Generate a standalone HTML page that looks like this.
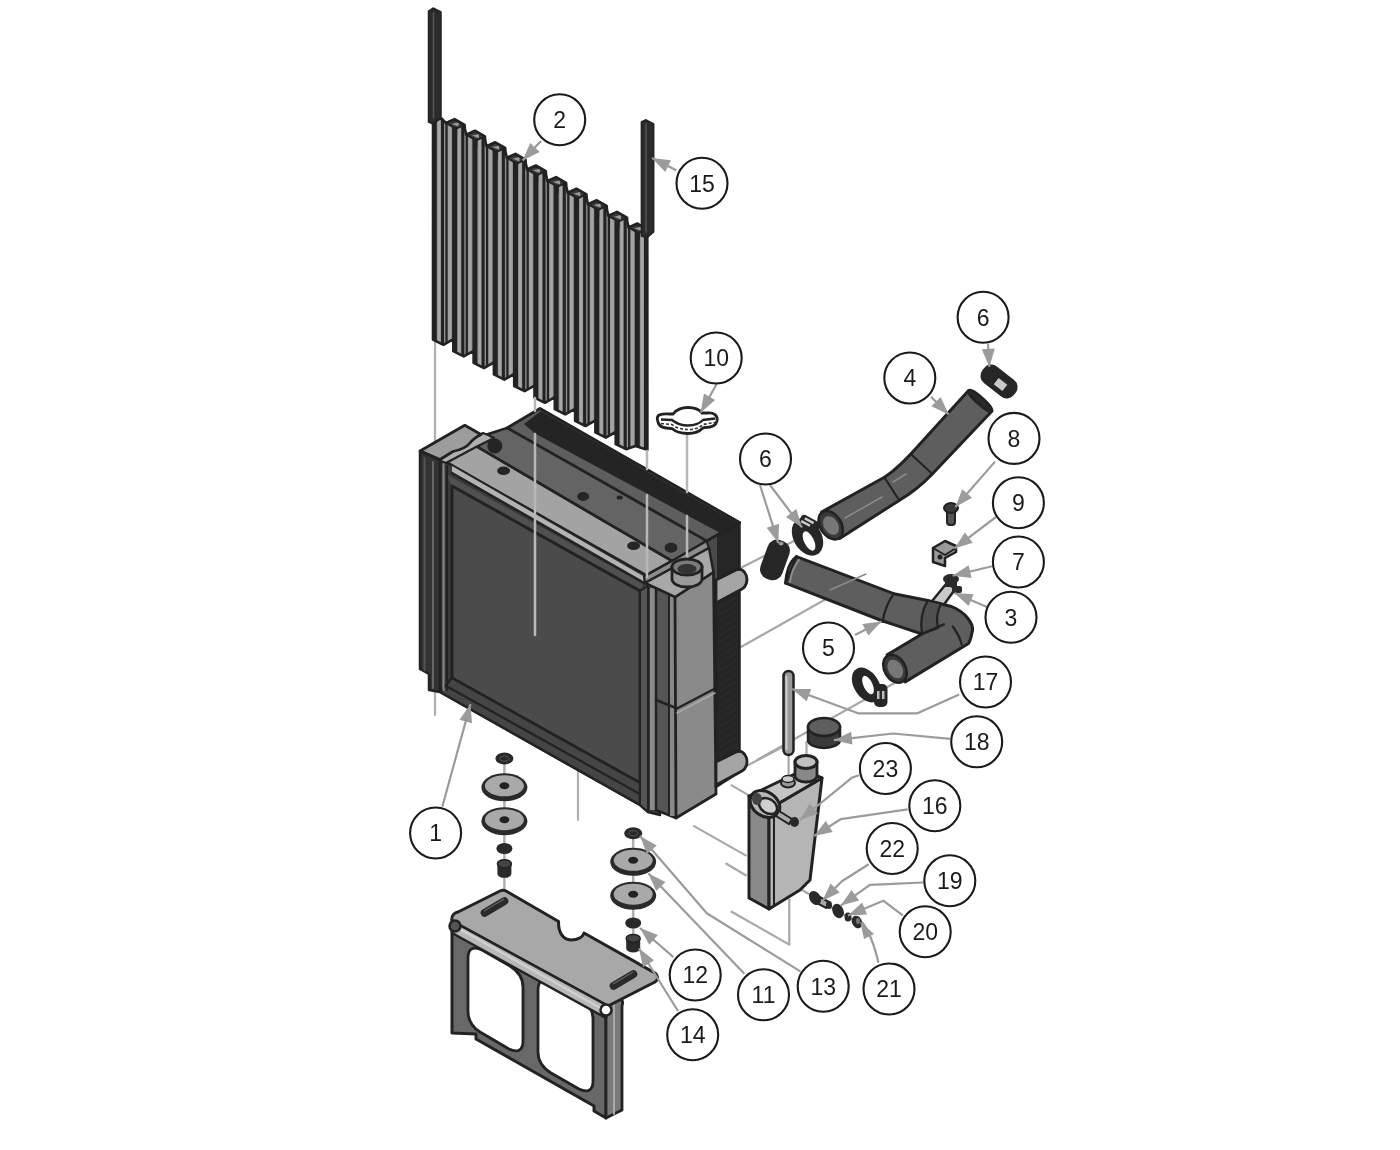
<!DOCTYPE html>
<html><head><meta charset="utf-8"><style>
html,body{margin:0;padding:0;background:#fff;width:1400px;height:1150px;overflow:hidden}
svg{display:block;will-change:transform}
text{font-family:"Liberation Sans",sans-serif;font-size:23px;fill:#1a1a1a}
</style></head><body>
<svg width="1400" height="1150" viewBox="0 0 1400 1150">
<defs>
<marker id="ar" viewBox="0 0 10 10" refX="10" refY="5" markerWidth="7" markerHeight="6" orient="auto" markerUnits="userSpaceOnUse"><path d="M0,0 L10,5 L0,10 z" fill="#999"/></marker>
</defs>
<line x1="435.0" y1="340.0" x2="435.0" y2="715.0" stroke="#b0b0b0" stroke-width="2.2" stroke-linecap="round" />
<line x1="578.0" y1="770.0" x2="578.0" y2="820.0" stroke="#b0b0b0" stroke-width="2.2" stroke-linecap="round" />
<path d="M740.5,568.0 L800.0,538.0" fill="none" stroke="#a8a8a8" stroke-width="2.2" stroke-linejoin="round"/>
<path d="M740.5,647.3 L846.0,587.8" fill="none" stroke="#a8a8a8" stroke-width="2.2" stroke-linejoin="round"/>
<path d="M757.0,760.0 L895.0,682.8" fill="none" stroke="#a8a8a8" stroke-width="2.2" stroke-linejoin="round"/>
<path d="M744.4,767.1 L784.0,746.3" fill="none" stroke="#a8a8a8" stroke-width="2.2" stroke-linejoin="round"/>
<path d="M730.8,784.9 L750.6,796.4" fill="none" stroke="#a8a8a8" stroke-width="2.2" stroke-linejoin="round"/>
<path d="M693.2,825.6 L746.5,855.9" fill="none" stroke="#a8a8a8" stroke-width="2.2" stroke-linejoin="round"/>
<path d="M725.6,863.2 L746.5,875.7" fill="none" stroke="#a8a8a8" stroke-width="2.2" stroke-linejoin="round"/>
<path d="M730.8,911.2 L789.3,944.6 L789.3,898.7" fill="none" stroke="#a8a8a8" stroke-width="2.2" stroke-linejoin="round"/>
<path d="M800.8,889.3 L858.0,923.0" fill="none" stroke="#a8a8a8" stroke-width="2.2" stroke-linejoin="round"/>
<path d="M806.5,741.0 L806.5,757.0" fill="none" stroke="#a8a8a8" stroke-width="2.2" stroke-linejoin="round"/>
<path d="M788.6,755.0 L788.6,778.0" fill="none" stroke="#a8a8a8" stroke-width="2.2" stroke-linejoin="round"/>
<defs><clipPath id="gclip"><path d="M433.0,122.0 L441.0,118.0 L445.9,123.0 L454.6,119.1 L464.6,124.8 L464.9,128.7 L466.2,134.6 L474.9,130.7 L484.9,136.4 L485.2,140.3 L486.5,146.2 L495.2,142.3 L505.2,148.0 L505.5,151.9 L506.8,157.8 L515.5,153.9 L525.5,159.6 L525.8,163.5 L527.1,169.4 L535.8,165.5 L545.8,171.2 L546.1,175.1 L547.4,181.0 L556.1,177.1 L566.1,182.8 L566.4,186.7 L567.7,192.6 L576.4,188.7 L586.4,194.4 L586.7,198.3 L588.0,204.2 L596.7,200.3 L606.7,206.0 L607.0,209.9 L608.3,215.8 L617.0,211.9 L627.0,217.6 L627.3,221.5 L628.6,227.4 L637.3,223.5 L647.3,229.2 L647.4,449.8 L635.4,446.0 L626.1,449.2 L615.7,444.0 L615.7,432.0 L605.8,437.6 L595.4,432.4 L595.4,420.4 L585.5,426.0 L575.1,420.8 L575.1,408.8 L565.2,414.4 L554.8,409.2 L554.8,397.2 L544.9,402.8 L534.5,397.6 L534.5,385.6 L524.6,391.2 L514.2,386.0 L514.2,374.0 L504.3,379.6 L493.9,374.4 L493.9,362.4 L484.0,368.0 L473.6,362.8 L473.6,350.8 L463.7,356.4 L453.3,351.2 L453.3,339.2 L443.4,344.8 L433.0,339.6 Z"/></clipPath></defs>
<path d="M433.0,122.0 L441.0,118.0 L445.9,123.0 L454.6,119.1 L464.6,124.8 L464.9,128.7 L466.2,134.6 L474.9,130.7 L484.9,136.4 L485.2,140.3 L486.5,146.2 L495.2,142.3 L505.2,148.0 L505.5,151.9 L506.8,157.8 L515.5,153.9 L525.5,159.6 L525.8,163.5 L527.1,169.4 L535.8,165.5 L545.8,171.2 L546.1,175.1 L547.4,181.0 L556.1,177.1 L566.1,182.8 L566.4,186.7 L567.7,192.6 L576.4,188.7 L586.4,194.4 L586.7,198.3 L588.0,204.2 L596.7,200.3 L606.7,206.0 L607.0,209.9 L608.3,215.8 L617.0,211.9 L627.0,217.6 L627.3,221.5 L628.6,227.4 L637.3,223.5 L647.3,229.2 L647.4,449.8 L635.4,446.0 L626.1,449.2 L615.7,444.0 L615.7,432.0 L605.8,437.6 L595.4,432.4 L595.4,420.4 L585.5,426.0 L575.1,420.8 L575.1,408.8 L565.2,414.4 L554.8,409.2 L554.8,397.2 L544.9,402.8 L534.5,397.6 L534.5,385.6 L524.6,391.2 L514.2,386.0 L514.2,374.0 L504.3,379.6 L493.9,374.4 L493.9,362.4 L484.0,368.0 L473.6,362.8 L473.6,350.8 L463.7,356.4 L453.3,351.2 L453.3,339.2 L443.4,344.8 L433.0,339.6 Z" fill="#8e8e8e"/>
<g clip-path="url(#gclip)">
<rect x="431.8" y="100" width="5" height="380" fill="#222"/>
<rect x="437.8" y="100" width="2.5" height="380" fill="#a8a8a8"/>
<rect x="441.0" y="100" width="3" height="380" fill="#222"/>
<rect x="445.4" y="100" width="2.2" height="380" fill="#222"/>
<rect x="448.2" y="100" width="3" height="380" fill="#a4a4a4"/>
<rect x="452.1" y="100" width="5" height="380" fill="#222"/>
<rect x="458.1" y="100" width="2.5" height="380" fill="#a8a8a8"/>
<rect x="461.3" y="100" width="3" height="380" fill="#222"/>
<rect x="465.7" y="100" width="2.2" height="380" fill="#222"/>
<rect x="468.5" y="100" width="3" height="380" fill="#a4a4a4"/>
<rect x="472.4" y="100" width="5" height="380" fill="#222"/>
<rect x="478.4" y="100" width="2.5" height="380" fill="#a8a8a8"/>
<rect x="481.6" y="100" width="3" height="380" fill="#222"/>
<rect x="486.0" y="100" width="2.2" height="380" fill="#222"/>
<rect x="488.8" y="100" width="3" height="380" fill="#a4a4a4"/>
<rect x="492.7" y="100" width="5" height="380" fill="#222"/>
<rect x="498.7" y="100" width="2.5" height="380" fill="#a8a8a8"/>
<rect x="501.9" y="100" width="3" height="380" fill="#222"/>
<rect x="506.3" y="100" width="2.2" height="380" fill="#222"/>
<rect x="509.1" y="100" width="3" height="380" fill="#a4a4a4"/>
<rect x="513.0" y="100" width="5" height="380" fill="#222"/>
<rect x="519.0" y="100" width="2.5" height="380" fill="#a8a8a8"/>
<rect x="522.2" y="100" width="3" height="380" fill="#222"/>
<rect x="526.6" y="100" width="2.2" height="380" fill="#222"/>
<rect x="529.4" y="100" width="3" height="380" fill="#a4a4a4"/>
<rect x="533.3" y="100" width="5" height="380" fill="#222"/>
<rect x="539.3" y="100" width="2.5" height="380" fill="#a8a8a8"/>
<rect x="542.5" y="100" width="3" height="380" fill="#222"/>
<rect x="546.9" y="100" width="2.2" height="380" fill="#222"/>
<rect x="549.7" y="100" width="3" height="380" fill="#a4a4a4"/>
<rect x="553.6" y="100" width="5" height="380" fill="#222"/>
<rect x="559.6" y="100" width="2.5" height="380" fill="#a8a8a8"/>
<rect x="562.8" y="100" width="3" height="380" fill="#222"/>
<rect x="567.2" y="100" width="2.2" height="380" fill="#222"/>
<rect x="570.0" y="100" width="3" height="380" fill="#a4a4a4"/>
<rect x="573.9" y="100" width="5" height="380" fill="#222"/>
<rect x="579.9" y="100" width="2.5" height="380" fill="#a8a8a8"/>
<rect x="583.1" y="100" width="3" height="380" fill="#222"/>
<rect x="587.5" y="100" width="2.2" height="380" fill="#222"/>
<rect x="590.3" y="100" width="3" height="380" fill="#a4a4a4"/>
<rect x="594.2" y="100" width="5" height="380" fill="#222"/>
<rect x="600.2" y="100" width="2.5" height="380" fill="#a8a8a8"/>
<rect x="603.4" y="100" width="3" height="380" fill="#222"/>
<rect x="607.8" y="100" width="2.2" height="380" fill="#222"/>
<rect x="610.6" y="100" width="3" height="380" fill="#a4a4a4"/>
<rect x="614.5" y="100" width="5" height="380" fill="#222"/>
<rect x="620.5" y="100" width="2.5" height="380" fill="#a8a8a8"/>
<rect x="623.7" y="100" width="3" height="380" fill="#222"/>
<rect x="628.1" y="100" width="2.2" height="380" fill="#222"/>
<rect x="630.9" y="100" width="3" height="380" fill="#a4a4a4"/>
<rect x="634.8" y="100" width="5" height="380" fill="#222"/>
<rect x="640.8" y="100" width="2.5" height="380" fill="#a8a8a8"/>
<rect x="644.0" y="100" width="3" height="380" fill="#222"/>
<rect x="648.4" y="100" width="2.2" height="380" fill="#222"/>
<rect x="651.2" y="100" width="3" height="380" fill="#a4a4a4"/>
<polygon points="445.9,123.0 454.6,119.1 464.6,124.8 455.9,128.7" fill="#3a3a3a" stroke="#222" stroke-width="2" stroke-linejoin="round" />
<polygon points="451.6,123.9 458.6,122.3 458.6,126.6" fill="#9a9a9a" stroke="none" stroke-width="0" stroke-linejoin="round" />
<line x1="455.9" y1="128.7" x2="455.9" y2="135.1" stroke="#222" stroke-width="2.5" stroke-linecap="round" />
<polygon points="466.2,134.6 474.9,130.7 484.9,136.4 476.2,140.3" fill="#3a3a3a" stroke="#222" stroke-width="2" stroke-linejoin="round" />
<polygon points="471.9,135.5 478.9,133.9 478.9,138.2" fill="#9a9a9a" stroke="none" stroke-width="0" stroke-linejoin="round" />
<line x1="476.2" y1="140.3" x2="476.2" y2="146.7" stroke="#222" stroke-width="2.5" stroke-linecap="round" />
<polygon points="486.5,146.2 495.2,142.3 505.2,148.0 496.5,151.9" fill="#3a3a3a" stroke="#222" stroke-width="2" stroke-linejoin="round" />
<polygon points="492.2,147.1 499.2,145.5 499.2,149.8" fill="#9a9a9a" stroke="none" stroke-width="0" stroke-linejoin="round" />
<line x1="496.5" y1="151.9" x2="496.5" y2="158.3" stroke="#222" stroke-width="2.5" stroke-linecap="round" />
<polygon points="506.8,157.8 515.5,153.9 525.5,159.6 516.8,163.5" fill="#3a3a3a" stroke="#222" stroke-width="2" stroke-linejoin="round" />
<polygon points="512.5,158.7 519.5,157.1 519.5,161.4" fill="#9a9a9a" stroke="none" stroke-width="0" stroke-linejoin="round" />
<line x1="516.8" y1="163.5" x2="516.8" y2="169.9" stroke="#222" stroke-width="2.5" stroke-linecap="round" />
<polygon points="527.1,169.4 535.8,165.5 545.8,171.2 537.1,175.1" fill="#3a3a3a" stroke="#222" stroke-width="2" stroke-linejoin="round" />
<polygon points="532.8,170.3 539.8,168.7 539.8,173.0" fill="#9a9a9a" stroke="none" stroke-width="0" stroke-linejoin="round" />
<line x1="537.1" y1="175.1" x2="537.1" y2="181.5" stroke="#222" stroke-width="2.5" stroke-linecap="round" />
<polygon points="547.4,181.0 556.1,177.1 566.1,182.8 557.4,186.7" fill="#3a3a3a" stroke="#222" stroke-width="2" stroke-linejoin="round" />
<polygon points="553.1,181.9 560.1,180.3 560.1,184.6" fill="#9a9a9a" stroke="none" stroke-width="0" stroke-linejoin="round" />
<line x1="557.4" y1="186.7" x2="557.4" y2="193.1" stroke="#222" stroke-width="2.5" stroke-linecap="round" />
<polygon points="567.7,192.6 576.4,188.7 586.4,194.4 577.7,198.3" fill="#3a3a3a" stroke="#222" stroke-width="2" stroke-linejoin="round" />
<polygon points="573.4,193.5 580.4,191.9 580.4,196.2" fill="#9a9a9a" stroke="none" stroke-width="0" stroke-linejoin="round" />
<line x1="577.7" y1="198.3" x2="577.7" y2="204.7" stroke="#222" stroke-width="2.5" stroke-linecap="round" />
<polygon points="588.0,204.2 596.7,200.3 606.7,206.0 598.0,209.9" fill="#3a3a3a" stroke="#222" stroke-width="2" stroke-linejoin="round" />
<polygon points="593.7,205.1 600.7,203.5 600.7,207.8" fill="#9a9a9a" stroke="none" stroke-width="0" stroke-linejoin="round" />
<line x1="598.0" y1="209.9" x2="598.0" y2="216.3" stroke="#222" stroke-width="2.5" stroke-linecap="round" />
<polygon points="608.3,215.8 617.0,211.9 627.0,217.6 618.3,221.5" fill="#3a3a3a" stroke="#222" stroke-width="2" stroke-linejoin="round" />
<polygon points="614.0,216.7 621.0,215.1 621.0,219.4" fill="#9a9a9a" stroke="none" stroke-width="0" stroke-linejoin="round" />
<line x1="618.3" y1="221.5" x2="618.3" y2="227.9" stroke="#222" stroke-width="2.5" stroke-linecap="round" />
<polygon points="628.6,227.4 637.3,223.5 647.3,229.2 638.6,233.1" fill="#3a3a3a" stroke="#222" stroke-width="2" stroke-linejoin="round" />
<polygon points="634.3,228.3 641.3,226.7 641.3,231.0" fill="#9a9a9a" stroke="none" stroke-width="0" stroke-linejoin="round" />
<line x1="638.6" y1="233.1" x2="638.6" y2="239.5" stroke="#222" stroke-width="2.5" stroke-linecap="round" />
</g>
<path d="M433.0,122.0 L441.0,118.0 L445.9,123.0 L454.6,119.1 L464.6,124.8 L464.9,128.7 L466.2,134.6 L474.9,130.7 L484.9,136.4 L485.2,140.3 L486.5,146.2 L495.2,142.3 L505.2,148.0 L505.5,151.9 L506.8,157.8 L515.5,153.9 L525.5,159.6 L525.8,163.5 L527.1,169.4 L535.8,165.5 L545.8,171.2 L546.1,175.1 L547.4,181.0 L556.1,177.1 L566.1,182.8 L566.4,186.7 L567.7,192.6 L576.4,188.7 L586.4,194.4 L586.7,198.3 L588.0,204.2 L596.7,200.3 L606.7,206.0 L607.0,209.9 L608.3,215.8 L617.0,211.9 L627.0,217.6 L627.3,221.5 L628.6,227.4 L637.3,223.5 L647.3,229.2 L647.4,449.8 L635.4,446.0 L626.1,449.2 L615.7,444.0 L615.7,432.0 L605.8,437.6 L595.4,432.4 L595.4,420.4 L585.5,426.0 L575.1,420.8 L575.1,408.8 L565.2,414.4 L554.8,409.2 L554.8,397.2 L544.9,402.8 L534.5,397.6 L534.5,385.6 L524.6,391.2 L514.2,386.0 L514.2,374.0 L504.3,379.6 L493.9,374.4 L493.9,362.4 L484.0,368.0 L473.6,362.8 L473.6,350.8 L463.7,356.4 L453.3,351.2 L453.3,339.2 L443.4,344.8 L433.0,339.6 Z" fill="none" stroke="#222" stroke-width="2.6" stroke-linejoin="round"/>
<polygon points="428.5,122.0 428.5,11.0 433.0,8.0 441.0,12.0 441.0,118.0 433.0,124.0" fill="#2b2b2b" stroke="#222" stroke-width="1.5" stroke-linejoin="round" />
<line x1="433.5" y1="13.0" x2="433.5" y2="118.0" stroke="#555" stroke-width="1.5" stroke-linecap="round" />
<polygon points="641.4,236.0 641.4,122.0 646.0,119.8 653.7,124.0 653.7,232.0 647.0,237.7" fill="#2b2b2b" stroke="#222" stroke-width="1.5" stroke-linejoin="round" />
<line x1="646.0" y1="124.0" x2="646.0" y2="232.0" stroke="#555" stroke-width="1.5" stroke-linecap="round" />
<polygon points="706.5,541.0 739.5,522.6 739.5,772.0 716.0,787.0 716.0,600.0 706.5,567.0" fill="#262626" stroke="#222" stroke-width="2.5" stroke-linejoin="round" />
<polygon points="706.5,541.0 717.0,535.0 717.0,600.0 706.5,567.0" fill="#4a4a4a" stroke="none" stroke-width="0" stroke-linejoin="round" />
<line x1="720.0" y1="600.0" x2="737.0" y2="590.0" stroke="#2f2f2f" stroke-width="1" stroke-linecap="round" />
<line x1="720.0" y1="607.0" x2="737.0" y2="597.0" stroke="#2f2f2f" stroke-width="1" stroke-linecap="round" />
<line x1="720.0" y1="614.0" x2="737.0" y2="604.0" stroke="#2f2f2f" stroke-width="1" stroke-linecap="round" />
<line x1="720.0" y1="621.0" x2="737.0" y2="611.0" stroke="#2f2f2f" stroke-width="1" stroke-linecap="round" />
<line x1="720.0" y1="628.0" x2="737.0" y2="618.0" stroke="#2f2f2f" stroke-width="1" stroke-linecap="round" />
<line x1="720.0" y1="635.0" x2="737.0" y2="625.0" stroke="#2f2f2f" stroke-width="1" stroke-linecap="round" />
<line x1="720.0" y1="642.0" x2="737.0" y2="632.0" stroke="#2f2f2f" stroke-width="1" stroke-linecap="round" />
<line x1="720.0" y1="649.0" x2="737.0" y2="639.0" stroke="#2f2f2f" stroke-width="1" stroke-linecap="round" />
<line x1="720.0" y1="656.0" x2="737.0" y2="646.0" stroke="#2f2f2f" stroke-width="1" stroke-linecap="round" />
<line x1="720.0" y1="663.0" x2="737.0" y2="653.0" stroke="#2f2f2f" stroke-width="1" stroke-linecap="round" />
<line x1="720.0" y1="670.0" x2="737.0" y2="660.0" stroke="#2f2f2f" stroke-width="1" stroke-linecap="round" />
<line x1="720.0" y1="677.0" x2="737.0" y2="667.0" stroke="#2f2f2f" stroke-width="1" stroke-linecap="round" />
<line x1="720.0" y1="684.0" x2="737.0" y2="674.0" stroke="#2f2f2f" stroke-width="1" stroke-linecap="round" />
<line x1="720.0" y1="691.0" x2="737.0" y2="681.0" stroke="#2f2f2f" stroke-width="1" stroke-linecap="round" />
<line x1="720.0" y1="698.0" x2="737.0" y2="688.0" stroke="#2f2f2f" stroke-width="1" stroke-linecap="round" />
<line x1="720.0" y1="705.0" x2="737.0" y2="695.0" stroke="#2f2f2f" stroke-width="1" stroke-linecap="round" />
<line x1="720.0" y1="712.0" x2="737.0" y2="702.0" stroke="#2f2f2f" stroke-width="1" stroke-linecap="round" />
<line x1="720.0" y1="719.0" x2="737.0" y2="709.0" stroke="#2f2f2f" stroke-width="1" stroke-linecap="round" />
<line x1="720.0" y1="726.0" x2="737.0" y2="716.0" stroke="#2f2f2f" stroke-width="1" stroke-linecap="round" />
<line x1="720.0" y1="733.0" x2="737.0" y2="723.0" stroke="#2f2f2f" stroke-width="1" stroke-linecap="round" />
<line x1="720.0" y1="740.0" x2="737.0" y2="730.0" stroke="#2f2f2f" stroke-width="1" stroke-linecap="round" />
<line x1="720.0" y1="747.0" x2="737.0" y2="737.0" stroke="#2f2f2f" stroke-width="1" stroke-linecap="round" />
<line x1="720.0" y1="754.0" x2="737.0" y2="744.0" stroke="#2f2f2f" stroke-width="1" stroke-linecap="round" />
<line x1="720.0" y1="761.0" x2="737.0" y2="751.0" stroke="#2f2f2f" stroke-width="1" stroke-linecap="round" />
<line x1="720.0" y1="768.0" x2="737.0" y2="758.0" stroke="#2f2f2f" stroke-width="1" stroke-linecap="round" />
<line x1="720.0" y1="775.0" x2="737.0" y2="765.0" stroke="#2f2f2f" stroke-width="1" stroke-linecap="round" />
<polygon points="507.0,428.0 540.0,408.5 739.5,522.6 706.5,541.0" fill="#5e5e5e" stroke="#222" stroke-width="3" stroke-linejoin="round" />
<polygon points="524.0,424.0 541.0,411.0 737.0,523.0 722.0,534.0 535.0,433.5" fill="#242424" stroke="none" stroke-width="0" stroke-linejoin="round" />
<polygon points="482.0,436.0 507.0,428.0 706.5,541.0 672.0,561.0 476.0,446.0" fill="#646464" stroke="#222" stroke-width="2.5" stroke-linejoin="round" />
<polygon points="446.0,462.0 476.0,446.1 672.0,561.0 644.0,576.5" fill="#a3a3a3" stroke="#222" stroke-width="2.8" stroke-linejoin="round" />
<polygon points="440.0,460.0 446.0,462.0 660.0,583.0 660.0,815.0 648.0,812.0 640.0,805.0 440.0,692.0" fill="#3a3a3a" stroke="#222" stroke-width="2.5" stroke-linejoin="round" />
<polygon points="452.0,466.0 644.0,576.5 644.0,583.0 452.0,473.0" fill="#b3b3b3" stroke="none" stroke-width="0" stroke-linejoin="round" />
<line x1="452.0" y1="473.0" x2="644.0" y2="583.0" stroke="#222" stroke-width="2.5" stroke-linecap="round" />
<polygon points="446.0,474.0 643.0,584.0 640.0,591.0 452.0,486.0" fill="#505050" stroke="none" stroke-width="0" stroke-linejoin="round" />
<polygon points="452.0,486.0 640.0,591.0 640.0,783.0 452.0,678.0" fill="#4b4b4b" stroke="#222" stroke-width="3" stroke-linejoin="round" />
<polygon points="440.0,692.0 452.0,678.0 640.0,783.0 640.0,805.0" fill="#454545" stroke="#222" stroke-width="2.5" stroke-linejoin="round" />
<line x1="448.0" y1="687.0" x2="640.0" y2="794.0" stroke="#222" stroke-width="2.2" stroke-linecap="round" />
<polygon points="640.0,591.0 648.0,586.0 648.0,812.0 640.0,805.0" fill="#555" stroke="#222" stroke-width="2" stroke-linejoin="round" />
<rect x="650" y="588" width="5" height="222" fill="#8a8a8a"/>
<polygon points="656.0,586.0 676.0,596.0 676.0,818.0 656.0,810.0" fill="#555" stroke="#222" stroke-width="2.5" stroke-linejoin="round" />
<rect x="670" y="594" width="5.5" height="222" fill="#888"/>
<line x1="669.0" y1="592.0" x2="669.0" y2="815.0" stroke="#222" stroke-width="2" stroke-linecap="round" />
<line x1="656.0" y1="700.0" x2="676.0" y2="708.0" stroke="#222" stroke-width="2.5" stroke-linecap="round" />
<polygon points="438.0,460.0 483.0,433.0 488.0,435.0 494.0,438.0 476.0,447.0 446.0,463.0" fill="#b0b0b0" stroke="#222" stroke-width="2.2" stroke-linejoin="round" />
<path d="M420,451 L464.8,425.3 L481,434.5 C476,437 473,439 470,443 C466,448 460,450 453,451.5 L440,459.5 Z" fill="#9d9d9d" stroke="#222" stroke-width="2.8" stroke-linejoin="round" stroke-linecap="round" />
<polygon points="420.0,451.0 440.0,460.0 440.0,692.0 429.0,690.0 429.0,674.0 420.0,669.0" fill="#333" stroke="#222" stroke-width="2.5" stroke-linejoin="round" />
<line x1="424.5" y1="458.0" x2="424.5" y2="670.0" stroke="#555" stroke-width="2" stroke-linecap="round" />
<line x1="433.0" y1="462.0" x2="433.0" y2="688.0" stroke="#666" stroke-width="2" stroke-linecap="round" />
<line x1="443.5" y1="464.0" x2="443.5" y2="690.0" stroke="#888" stroke-width="2" stroke-linecap="round" />
<line x1="447.0" y1="466.0" x2="447.0" y2="690.0" stroke="#222" stroke-width="2" stroke-linecap="round" />
<polygon points="675.0,597.0 713.5,572.0 716.0,794.0 676.0,818.0" fill="#8a8a8a" stroke="#222" stroke-width="2.8" stroke-linejoin="round" />
<line x1="676.0" y1="709.0" x2="716.0" y2="688.0" stroke="#222" stroke-width="2.5" stroke-linecap="round" />
<line x1="677.0" y1="713.0" x2="715.0" y2="693.0" stroke="#aaa" stroke-width="1.5" stroke-linecap="round" />
<polygon points="644.0,576.5 672.0,561.0 706.5,541.0 709.0,548.0 645.0,583.0" fill="#8c8c8c" stroke="#222" stroke-width="2.2" stroke-linejoin="round" />
<polygon points="645.0,583.0 709.0,548.0 713.5,572.0 675.0,597.0" fill="#a8a8a8" stroke="#222" stroke-width="2.5" stroke-linejoin="round" />
<line x1="535.0" y1="398.0" x2="535.0" y2="411.0" stroke="#b8b8b8" stroke-width="2.5" stroke-linecap="round" />
<line x1="535.0" y1="434.0" x2="535.0" y2="635.0" stroke="#b8b8b8" stroke-width="2.5" stroke-linecap="round" />
<line x1="647.0" y1="451.0" x2="647.0" y2="469.0" stroke="#b8b8b8" stroke-width="2.5" stroke-linecap="round" />
<line x1="647.0" y1="495.0" x2="647.0" y2="577.0" stroke="#b8b8b8" stroke-width="2.5" stroke-linecap="round" />
<line x1="687.0" y1="430.0" x2="687.0" y2="492.0" stroke="#b8b8b8" stroke-width="2.5" stroke-linecap="round" />
<line x1="687.0" y1="516.0" x2="687.0" y2="565.0" stroke="#b8b8b8" stroke-width="2.5" stroke-linecap="round" />
<path d="M672,567 L672,579 A15,8 0 0 0 702,579 L702,567 Z" fill="#9a9a9a" stroke="#222" stroke-width="2.8"/>
<ellipse cx="687" cy="567" rx="15" ry="8" fill="#7a7a7a" stroke="#222" stroke-width="2.8"/>
<ellipse cx="687" cy="569" rx="9.5" ry="5" fill="#333"/>
<path d="M716,580 L736,570 A7,9 0 0 1 742,589 L716,603 Z" fill="#a5a5a5" stroke="#222" stroke-width="2.8"/>
<path d="M716,762 L736,752 A7,9 0 0 1 742,771 L716,785 Z" fill="#a5a5a5" stroke="#222" stroke-width="2.8"/>
<circle cx="494.8" cy="446" r="7.5" fill="#252525"/>
<ellipse cx="503.6" cy="470.8" rx="6.5" ry="4.3" fill="#252525"/>
<ellipse cx="583.2" cy="496.4" rx="6" ry="4.5" fill="#252525"/>
<ellipse cx="619.6" cy="497.5" rx="3" ry="2" fill="#252525"/>
<ellipse cx="633.6" cy="545.7" rx="6.5" ry="4.3" fill="#252525"/>
<ellipse cx="671" cy="547.8" rx="6.5" ry="5" fill="#252525"/>
<path d="M657.5,420 C656,414 662,413.5 670,414 L673,414 C677,409 683,407.5 688,407.5 C694,407.5 699,409 702,413 L707,413 C714,412.5 718,415 717,421 C716,426 711,427.5 705,427.5 L703,428 C699,432 693,433.5 688,433.5 C682,433.5 676,432 672,428.5 L666,428 C661,427.5 658,425 657.5,420 Z" fill="#fff" stroke="#222" stroke-width="2.8"/>
<path d="M661,419.5 L672,420 C677,424 683,425.5 688,425.5 C694,425.5 699,424 703,420 L715,418.5" fill="none" stroke="#222" stroke-width="2.4"/>
<path d="M661,423.5 L672,424.5 C677,428.5 683,429.5 688,429.5 C694,429.5 699,428.5 703,424.5 L715,422.5" fill="none" stroke="#333" stroke-width="1.6" stroke-dasharray="3,2"/>
<path d="M968.6,390.5 L910.8,454.1 Q897,469 884.4,477.3 L821.6,512 L839.7,538.4 L899.2,500.4 Q917,490 932.3,474 L991.8,411.2 Z" fill="#5e5e5e" stroke="#222" stroke-width="3" stroke-linejoin="round" stroke-linecap="round" />
<line x1="910.8" y1="454.1" x2="932.3" y2="474.0" stroke="#222" stroke-width="2" stroke-linecap="round" />
<line x1="884.4" y1="477.3" x2="899.2" y2="500.4" stroke="#222" stroke-width="2" stroke-linecap="round" />
<line x1="845.0" y1="518.0" x2="882.0" y2="497.0" stroke="#8a8a8a" stroke-width="1.5" stroke-linecap="round" />
<line x1="893.0" y1="482.0" x2="906.0" y2="474.0" stroke="#8a8a8a" stroke-width="1.5" stroke-linecap="round" />
<ellipse cx="980.2" cy="400.8" rx="15.5" ry="3.5" transform="rotate(41.7 980.2 400.8)" fill="#2a2a2a" stroke="#222" stroke-width="2.5"/>
<ellipse cx="830.7" cy="525.2" rx="10.5" ry="15.5" transform="rotate(-33 830.7 525.2)" fill="#3a3a3a" stroke="#222" stroke-width="2.5"/>
<ellipse cx="831" cy="525.5" rx="7" ry="10" transform="rotate(-33 831 525.5)" fill="#777"/>
<rect x="979" y="371" width="40" height="21" rx="9" transform="rotate(38 999 381.5)" fill="#262626"/>
<rect x="995" y="380.5" width="11" height="8" transform="rotate(38 1000.5 384.5)" fill="#c8c8c8"/>
<rect x="947" y="509" width="8" height="16" rx="3" fill="#555" stroke="#222" stroke-width="2"/>
<ellipse cx="951" cy="508" rx="7" ry="5" fill="#3a3a3a" stroke="#222" stroke-width="2"/>
<path d="M933,562 L933,548 L945,541 L956,546 L956,552 L945,558 L945,566 Z" fill="#9a9a9a" stroke="#222" stroke-width="2.5" stroke-linejoin="round" stroke-linecap="round" />
<path d="M933,548 L945,555 L956,548" fill="none" stroke="#222" stroke-width="2" stroke-linejoin="round" stroke-linecap="round" />
<circle cx="940" cy="557" r="2.5" fill="#222"/>
<path d="M928,606 L946,584 L956,588 L940,610 Z" fill="#c8c8c8" stroke="#222" stroke-width="2.5" stroke-linejoin="round" stroke-linecap="round" />
<path d="M796.5,556.6 L893.9,593.7 L927.8,600.5 L950.4,606.2 C966,612 975,625 971.9,633 C971,638 970,641 968.5,643.5 L905.2,681.9 L887.1,654.8 L922,634 L881.4,620.5 L785.6,583.1 Z" fill="#5e5e5e" stroke="#222" stroke-width="3" stroke-linejoin="round" stroke-linecap="round" />
<path d="M927.8,600.5 L941,603.5 C937,612 936,620 938,628 L922,634 C920,622 922,610 927.8,600.5 Z" fill="#505050" stroke="#222" stroke-width="2.2" stroke-linejoin="round" stroke-linecap="round" />
<path d="M893.9,593.7 C887,603 884,612 882.6,622" fill="none" stroke="#222" stroke-width="2.2" stroke-linejoin="round" stroke-linecap="round" />
<line x1="922.0" y1="634.0" x2="943.7" y2="624.3" stroke="#222" stroke-width="2.5" stroke-linecap="round" />
<path d="M952.7,626.5 C957,632 960,638 961.7,644.6" fill="none" stroke="#222" stroke-width="2.2" stroke-linejoin="round" stroke-linecap="round" />
<line x1="830.0" y1="590.0" x2="866.0" y2="574.0" stroke="#8a8a8a" stroke-width="1.5" stroke-linecap="round" />
<path d="M796.5,556.6 C789,562 786,574 785.6,583.1" fill="none" stroke="#222" stroke-width="3" stroke-linejoin="round" stroke-linecap="round" />
<path d="M799,560 C794,566 791,574 790,582" fill="none" stroke="#8a8a8a" stroke-width="2" stroke-linejoin="round" stroke-linecap="round" />
<ellipse cx="895" cy="668.8" rx="10.5" ry="15" transform="rotate(-30 895 668.8)" fill="#3a3a3a" stroke="#222" stroke-width="2.5"/>
<ellipse cx="895.3" cy="669" rx="7" ry="10" transform="rotate(-30 895.3 669)" fill="#777"/>
<ellipse cx="951" cy="579" rx="8" ry="5" fill="#2a2a2a"/>
<rect x="945" y="578" width="12" height="9" fill="#2a2a2a"/>
<rect x="952" y="586" width="10" height="7" rx="2" fill="#2a2a2a"/>
<ellipse cx="807.5" cy="537" rx="14" ry="20" transform="rotate(-30 807.5 537)" fill="#262626"/>
<ellipse cx="809" cy="541" rx="4.8" ry="10.5" transform="rotate(-27 809 541)" fill="#fff"/>
<rect x="799" y="518" width="21" height="11" rx="3" transform="rotate(28 809.5 523.5)" fill="#262626"/>
<rect x="803" y="520" width="10" height="2.5" transform="rotate(28 809.5 523.5)" fill="#ccc"/>
<rect x="801" y="524" width="10" height="2.5" transform="rotate(28 809.5 523.5)" fill="#ccc"/>
<rect x="763.5" y="539.5" width="23" height="41" rx="10" transform="rotate(20 775.2 560)" fill="#262626"/>
<ellipse cx="781" cy="543.5" rx="2.5" ry="2" fill="#999"/>
<ellipse cx="866.5" cy="685" rx="12.5" ry="19" transform="rotate(-32 866.5 685)" fill="#262626"/>
<ellipse cx="868" cy="685" rx="4.5" ry="10" transform="rotate(-25 868 685)" fill="#fff"/>
<rect x="874" y="684" width="13.5" height="23" rx="5" fill="#262626"/>
<rect x="877" y="691" width="2.5" height="8" fill="#bbb"/><rect x="882" y="691" width="2.5" height="8" fill="#bbb"/>
<rect x="783.5" y="671" width="10" height="84" rx="5" fill="#9a9a9a" stroke="#222" stroke-width="2.5"/>
<line x1="786.5" y1="676" x2="786.5" y2="750" stroke="#cfcfcf" stroke-width="2"/>
<path d="M808,727 L808,740 A16,8 0 0 0 840,740 L840,727 Z" fill="#3a3a3a" stroke="#222" stroke-width="2.5"/>
<ellipse cx="824" cy="727" rx="16" ry="9" fill="#5e5e5e" stroke="#222" stroke-width="2.5"/>
<polygon points="749.0,796.0 769.0,809.0 769.0,909.0 749.0,898.0" fill="#8a8a8a" stroke="#222" stroke-width="3" stroke-linejoin="round" />
<polygon points="769.0,809.0 822.0,778.0 810.0,880.0 800.0,890.0 769.0,909.0" fill="#b5b5b5" stroke="#222" stroke-width="3" stroke-linejoin="round" />
<polygon points="749.0,796.0 803.0,770.0 822.0,778.0 769.0,809.0" fill="#c5c5c5" stroke="#222" stroke-width="3" stroke-linejoin="round" />
<line x1="774.0" y1="812.0" x2="774.0" y2="906.0" stroke="#222" stroke-width="2" stroke-linecap="round" />
<ellipse cx="765" cy="804" rx="16" ry="12" transform="rotate(35 765 804)" fill="#b8b8b8" stroke="#222" stroke-width="3"/>
<ellipse cx="768" cy="806" rx="10" ry="7" transform="rotate(35 768 806)" fill="#cfcfcf" stroke="#222" stroke-width="2.5"/>
<ellipse cx="757" cy="799" rx="5" ry="6" fill="#444"/>
<path d="M779,811 L792,819 L789,824 L776,816 Z" fill="#aaa" stroke="#222" stroke-width="2"/>
<ellipse cx="794.5" cy="822" rx="4.5" ry="5" fill="#2a2a2a"/>
<path d="M795,762 L795,776 A11,6 0 0 0 817,776 L817,762 Z" fill="#888" stroke="#222" stroke-width="2.8"/>
<ellipse cx="806" cy="762" rx="11" ry="6.5" fill="#c0c0c0" stroke="#222" stroke-width="3"/>
<ellipse cx="788" cy="783" rx="7" ry="4.5" fill="#999" stroke="#222" stroke-width="2"/>
<ellipse cx="788" cy="779" rx="6" ry="3.5" fill="#ccc" stroke="#222" stroke-width="1.5"/>
<path d="M816,895 L829,902 L826,908 L813,901 Z" fill="#aaa" stroke="#222" stroke-width="2"/>
<ellipse cx="815" cy="898" rx="5.5" ry="7.5" transform="rotate(-30 815 898)" fill="#2a2a2a"/>
<ellipse cx="829" cy="905" rx="3" ry="4" fill="#2a2a2a"/>
<ellipse cx="838" cy="911" rx="5.5" ry="7.5" transform="rotate(-25 838 911)" fill="#2a2a2a"/>
<ellipse cx="848" cy="917" rx="3.5" ry="4.5" fill="#2a2a2a"/>
<ellipse cx="857" cy="922" rx="5" ry="6.5" transform="rotate(-25 857 922)" fill="#2a2a2a"/>
<ellipse cx="858" cy="921" rx="2" ry="3" fill="#777"/>
<line x1="504.4" y1="758.6" x2="504.4" y2="888.8" stroke="#b0b0b0" stroke-width="2.5" stroke-linecap="round" />
<ellipse cx="504.4" cy="758.6" rx="9" ry="6" fill="#2a2a2a"/><ellipse cx="504.4" cy="758.6" rx="4.5" ry="2.5" fill="none" stroke="#555" stroke-width="1"/>
<ellipse cx="504.4" cy="787.3" rx="23" ry="14" fill="#2a2a2a"/>
<ellipse cx="504.4" cy="785.8" rx="19.5" ry="10.5" fill="#a9a9a9"/>
<ellipse cx="504.4" cy="785.8" rx="5" ry="3.5" fill="#222"/>
<ellipse cx="504.4" cy="821.2" rx="23" ry="14" fill="#2a2a2a"/>
<ellipse cx="504.4" cy="819.7" rx="19.5" ry="10.5" fill="#a9a9a9"/>
<ellipse cx="504.4" cy="819.7" rx="5" ry="3.5" fill="#222"/>
<ellipse cx="504.4" cy="848.5" rx="8" ry="5.5" fill="#2a2a2a"/>
<path d="M497.4,863.8 L497.4,873.8 A7,4 0 0 0 511.4,873.8 L511.4,863.8 Z" fill="#2a2a2a"/><ellipse cx="504.4" cy="863.8" rx="7" ry="4" fill="#444" stroke="#222" stroke-width="1.5"/>
<line x1="633.2" y1="833.2" x2="633.2" y2="943.4" stroke="#b0b0b0" stroke-width="2.5" stroke-linecap="round" />
<ellipse cx="633.2" cy="833.2" rx="9" ry="6" fill="#2a2a2a"/><ellipse cx="633.2" cy="833.2" rx="4.5" ry="2.5" fill="none" stroke="#555" stroke-width="1"/>
<ellipse cx="633.2" cy="861.8" rx="23" ry="14" fill="#2a2a2a"/>
<ellipse cx="633.2" cy="860.3" rx="19.5" ry="10.5" fill="#a9a9a9"/>
<ellipse cx="633.2" cy="860.3" rx="5" ry="3.5" fill="#222"/>
<ellipse cx="633.2" cy="895.7" rx="23" ry="14" fill="#2a2a2a"/>
<ellipse cx="633.2" cy="894.2" rx="19.5" ry="10.5" fill="#a9a9a9"/>
<ellipse cx="633.2" cy="894.2" rx="5" ry="3.5" fill="#222"/>
<ellipse cx="633.2" cy="923" rx="8" ry="5.5" fill="#2a2a2a"/>
<path d="M626.2,938.4 L626.2,948.4 A7,4 0 0 0 640.2,948.4 L640.2,938.4 Z" fill="#2a2a2a"/><ellipse cx="633.2" cy="938.4" rx="7" ry="4" fill="#444" stroke="#222" stroke-width="1.5"/>
<path d="M452,928 L606,1013 L606,1118 L594,1111 L594,1106 L476,1039 L476,1034 L452,1033 Z" fill="#686868" stroke="#222" stroke-width="3" stroke-linejoin="round" stroke-linecap="round" />
<path d="M458,934 L600,1013" fill="none" stroke="#8a8a8a" stroke-width="5" stroke-linejoin="round" stroke-linecap="round" />
<path d="M468,958 C468,948 474,946 482,950 L510,966 C518,971 523,977 523,987 L523,1041 C523,1051 517,1053 509,1049 L480,1032 C472,1027 468,1021 468,1011 Z" fill="#fff" stroke="#222" stroke-width="2.8" stroke-linejoin="round" stroke-linecap="round" />
<path d="M538,990 C538,980 544,978 552,982 L580,998 C588,1003 593,1009 593,1019 L593,1081 C593,1091 587,1093 579,1089 L551,1073 C543,1068 538,1062 538,1052 Z" fill="#fff" stroke="#222" stroke-width="2.8" stroke-linejoin="round" stroke-linecap="round" />
<path d="M606,1006 L620,999 C623,1000 623,1003 622,1006 L622,1110 L606,1118 Z" fill="#7a7a7a" stroke="#222" stroke-width="2.8" stroke-linejoin="round" stroke-linecap="round" />
<line x1="614.0" y1="1004.0" x2="614.0" y2="1114.0" stroke="#aaa" stroke-width="2" stroke-linecap="round" />
<path d="M452,921 C451,916 454,913 458,912 L500,891 C502,890 504,890 506,891 L558.6,921.5 C558,932 563,940 571,940 C578,940 583,937 584,933 L655,973 C659,976 658,980 655,982 L608,1006 Z" fill="#a8a8a8" stroke="#222" stroke-width="3" stroke-linejoin="round" stroke-linecap="round" />
<path d="M452,921 L608,1006 L606,1018 L452,933 Z" fill="#b8b8b8" stroke="#222" stroke-width="2.5" stroke-linejoin="round" stroke-linecap="round" />
<line x1="456.0" y1="927.0" x2="604.0" y2="1010.0" stroke="#d0d0d0" stroke-width="2.5" stroke-linecap="round" />
<rect x="479" y="903" width="31" height="8" rx="4" transform="rotate(-31 494.5 907)" fill="#2a2a2a"/>
<line x1="484" y1="911" x2="504" y2="899" stroke="#666" stroke-width="1.2"/>
<rect x="608" y="976" width="31" height="8" rx="4" transform="rotate(-31 623.5 980)" fill="#2a2a2a"/>
<line x1="613" y1="984" x2="633" y2="972" stroke="#666" stroke-width="1.2"/>
<circle cx="606" cy="1010" r="5.5" fill="#fff" stroke="#222" stroke-width="2.5"/>
<circle cx="455" cy="926" r="5.5" fill="#555" stroke="#222" stroke-width="2.5"/>
<path d="M541.0,141.0 L522.6,160.6" fill="none" stroke="#9b9b9b" stroke-width="2.2" stroke-linejoin="round"/>
<polygon points="522.6,160.6 530.2,143.0 539.7,151.9" fill="#9b9b9b"/>
<path d="M676.3,170.3 L652.0,158.0" fill="none" stroke="#9b9b9b" stroke-width="2.2" stroke-linejoin="round"/>
<polygon points="652.0,158.0 671.0,160.3 665.1,171.9" fill="#9b9b9b"/>
<path d="M716.7,384.0 L700.7,412.4" fill="none" stroke="#9b9b9b" stroke-width="2.2" stroke-linejoin="round"/>
<polygon points="700.7,412.4 703.9,393.5 715.2,399.9" fill="#9b9b9b"/>
<path d="M988.0,343.8 L989.4,366.9" fill="none" stroke="#9b9b9b" stroke-width="2.2" stroke-linejoin="round"/>
<polygon points="989.4,366.9 981.8,349.3 994.8,348.5" fill="#9b9b9b"/>
<path d="M931.0,396.7 L948.7,414.4" fill="none" stroke="#9b9b9b" stroke-width="2.2" stroke-linejoin="round"/>
<polygon points="948.7,414.4 931.4,406.3 940.6,397.1" fill="#9b9b9b"/>
<path d="M995.0,461.6 L955.4,507.0" fill="none" stroke="#9b9b9b" stroke-width="2.2" stroke-linejoin="round"/>
<polygon points="955.4,507.0 962.3,489.2 972.1,497.7" fill="#9b9b9b"/>
<path d="M760.0,485.0 L778.3,542.9" fill="none" stroke="#9b9b9b" stroke-width="2.2" stroke-linejoin="round"/>
<polygon points="778.3,542.9 766.7,527.7 779.1,523.8" fill="#9b9b9b"/>
<path d="M770.0,485.0 L802.0,527.4" fill="none" stroke="#9b9b9b" stroke-width="2.2" stroke-linejoin="round"/>
<polygon points="802.0,527.4 786.0,516.9 796.3,509.1" fill="#9b9b9b"/>
<path d="M996.0,517.0 L954.5,548.4" fill="none" stroke="#9b9b9b" stroke-width="2.2" stroke-linejoin="round"/>
<polygon points="954.5,548.4 964.9,532.4 972.8,542.7" fill="#9b9b9b"/>
<path d="M993.0,566.0 L952.6,575.8" fill="none" stroke="#9b9b9b" stroke-width="2.2" stroke-linejoin="round"/>
<polygon points="952.6,575.8 968.6,565.2 971.6,577.9" fill="#9b9b9b"/>
<path d="M987.0,607.0 L954.5,593.0" fill="none" stroke="#9b9b9b" stroke-width="2.2" stroke-linejoin="round"/>
<polygon points="954.5,593.0 973.6,594.2 968.5,606.1" fill="#9b9b9b"/>
<path d="M855.0,635.0 L881.4,621.4" fill="none" stroke="#9b9b9b" stroke-width="2.2" stroke-linejoin="round"/>
<polygon points="881.4,621.4 868.4,635.4 862.4,623.9" fill="#9b9b9b"/>
<path d="M959.2,694.4 L917.4,713.3 L858.1,713.3 L792.1,689.0" fill="none" stroke="#9b9b9b" stroke-width="2.2" stroke-linejoin="round"/>
<polygon points="792.1,689.0 811.2,689.1 806.7,701.3" fill="#9b9b9b"/>
<path d="M950.3,738.9 L893.2,733.5 L833.9,740.2" fill="none" stroke="#9b9b9b" stroke-width="2.2" stroke-linejoin="round"/>
<polygon points="833.9,740.2 851.1,731.7 852.5,744.6" fill="#9b9b9b"/>
<path d="M859.0,775.3 L851.7,777.8 L800.0,820.0" fill="none" stroke="#9b9b9b" stroke-width="2.2" stroke-linejoin="round"/>
<polygon points="800.0,820.0 809.8,803.6 818.1,813.7" fill="#9b9b9b"/>
<path d="M907.7,809.4 L840.7,819.2 L814.0,836.0" fill="none" stroke="#9b9b9b" stroke-width="2.2" stroke-linejoin="round"/>
<polygon points="814.0,836.0 825.8,820.9 832.7,831.9" fill="#9b9b9b"/>
<path d="M868.7,864.2 L841.9,881.3 L822.4,900.7" fill="none" stroke="#9b9b9b" stroke-width="2.2" stroke-linejoin="round"/>
<polygon points="822.4,900.7 830.6,883.4 839.7,892.6" fill="#9b9b9b"/>
<path d="M923.5,882.5 L869.9,884.9 L840.7,905.6" fill="none" stroke="#9b9b9b" stroke-width="2.2" stroke-linejoin="round"/>
<polygon points="840.7,905.6 851.6,889.9 859.1,900.5" fill="#9b9b9b"/>
<path d="M902.8,915.4 L883.3,900.7 L848.0,915.4" fill="none" stroke="#9b9b9b" stroke-width="2.2" stroke-linejoin="round"/>
<polygon points="848.0,915.4 862.1,902.5 867.1,914.5" fill="#9b9b9b"/>
<path d="M442.3,806.7 L470.5,704.1" fill="none" stroke="#9b9b9b" stroke-width="2.2" stroke-linejoin="round"/>
<polygon points="470.5,704.1 472.0,723.2 459.5,719.7" fill="#9b9b9b"/>
<path d="M673.4,957.1 L640.0,928.0" fill="none" stroke="#9b9b9b" stroke-width="2.2" stroke-linejoin="round"/>
<polygon points="640.0,928.0 657.8,934.9 649.3,944.7" fill="#9b9b9b"/>
<path d="M678.0,1011.0 L639.0,948.5" fill="none" stroke="#9b9b9b" stroke-width="2.2" stroke-linejoin="round"/>
<polygon points="639.0,948.5 654.0,960.3 643.0,967.2" fill="#9b9b9b"/>
<path d="M744.4,973.8 L648.4,873.6" fill="none" stroke="#9b9b9b" stroke-width="2.2" stroke-linejoin="round"/>
<polygon points="648.4,873.6 665.5,882.1 656.2,891.1" fill="#9b9b9b"/>
<path d="M800.3,971.4 L706.8,913.3 L640.0,836.0" fill="none" stroke="#9b9b9b" stroke-width="2.2" stroke-linejoin="round"/>
<polygon points="640.0,836.0 656.7,845.4 646.9,853.9" fill="#9b9b9b"/>
<path d="M878.5,962.8 Q872,935 862,922" fill="none" stroke="#9b9b9b" stroke-width="2.2"/>
<polygon points="860.2,921.4 864,939 874,934" fill="#9b9b9b"/>
<circle cx="559.7" cy="119.7" r="25.5" fill="#fff" stroke="#1a1a1a" stroke-width="2.1"/>
<text x="559.7" y="128.0" text-anchor="middle">2</text>
<circle cx="702" cy="183.2" r="25.5" fill="#fff" stroke="#1a1a1a" stroke-width="2.1"/>
<text x="702" y="191.5" text-anchor="middle">15</text>
<circle cx="716.2" cy="358" r="25.5" fill="#fff" stroke="#1a1a1a" stroke-width="2.1"/>
<text x="716.2" y="366.3" text-anchor="middle">10</text>
<circle cx="983.1" cy="317.2" r="25.5" fill="#fff" stroke="#1a1a1a" stroke-width="2.1"/>
<text x="983.1" y="325.5" text-anchor="middle">6</text>
<circle cx="909.8" cy="378" r="25.5" fill="#fff" stroke="#1a1a1a" stroke-width="2.1"/>
<text x="909.8" y="386.3" text-anchor="middle">4</text>
<circle cx="1014" cy="438.4" r="25.5" fill="#fff" stroke="#1a1a1a" stroke-width="2.1"/>
<text x="1014" y="446.7" text-anchor="middle">8</text>
<circle cx="765.5" cy="459" r="25.5" fill="#fff" stroke="#1a1a1a" stroke-width="2.1"/>
<text x="765.5" y="467.3" text-anchor="middle">6</text>
<circle cx="1018.4" cy="502.7" r="25.5" fill="#fff" stroke="#1a1a1a" stroke-width="2.1"/>
<text x="1018.4" y="511.0" text-anchor="middle">9</text>
<circle cx="1018.4" cy="562" r="25.5" fill="#fff" stroke="#1a1a1a" stroke-width="2.1"/>
<text x="1018.4" y="570.3" text-anchor="middle">7</text>
<circle cx="1011" cy="617.2" r="25.5" fill="#fff" stroke="#1a1a1a" stroke-width="2.1"/>
<text x="1011" y="625.5" text-anchor="middle">3</text>
<circle cx="828.5" cy="648" r="25.5" fill="#fff" stroke="#1a1a1a" stroke-width="2.1"/>
<text x="828.5" y="656.3" text-anchor="middle">5</text>
<circle cx="985.5" cy="682" r="25.5" fill="#fff" stroke="#1a1a1a" stroke-width="2.1"/>
<text x="985.5" y="690.3" text-anchor="middle">17</text>
<circle cx="976.7" cy="741.8" r="25.5" fill="#fff" stroke="#1a1a1a" stroke-width="2.1"/>
<text x="976.7" y="750.0999999999999" text-anchor="middle">18</text>
<circle cx="885.4" cy="768.5" r="25.5" fill="#fff" stroke="#1a1a1a" stroke-width="2.1"/>
<text x="885.4" y="776.8" text-anchor="middle">23</text>
<circle cx="934.8" cy="805.8" r="25.5" fill="#fff" stroke="#1a1a1a" stroke-width="2.1"/>
<text x="934.8" y="814.0999999999999" text-anchor="middle">16</text>
<circle cx="892.2" cy="848.5" r="25.5" fill="#fff" stroke="#1a1a1a" stroke-width="2.1"/>
<text x="892.2" y="856.8" text-anchor="middle">22</text>
<circle cx="949.8" cy="880.8" r="25.5" fill="#fff" stroke="#1a1a1a" stroke-width="2.1"/>
<text x="949.8" y="889.0999999999999" text-anchor="middle">19</text>
<circle cx="925.2" cy="931.8" r="25.5" fill="#fff" stroke="#1a1a1a" stroke-width="2.1"/>
<text x="925.2" y="940.0999999999999" text-anchor="middle">20</text>
<circle cx="889" cy="989" r="25.5" fill="#fff" stroke="#1a1a1a" stroke-width="2.1"/>
<text x="889" y="997.3" text-anchor="middle">21</text>
<circle cx="435.6" cy="833" r="25.5" fill="#fff" stroke="#1a1a1a" stroke-width="2.1"/>
<text x="435.6" y="841.3" text-anchor="middle">1</text>
<circle cx="695.2" cy="975" r="25.5" fill="#fff" stroke="#1a1a1a" stroke-width="2.1"/>
<text x="695.2" y="983.3" text-anchor="middle">12</text>
<circle cx="763.5" cy="994.8" r="25.5" fill="#fff" stroke="#1a1a1a" stroke-width="2.1"/>
<text x="763.5" y="1003.0999999999999" text-anchor="middle">11</text>
<circle cx="823.2" cy="986.2" r="25.5" fill="#fff" stroke="#1a1a1a" stroke-width="2.1"/>
<text x="823.2" y="994.5" text-anchor="middle">13</text>
<circle cx="692.7" cy="1034.8" r="25.5" fill="#fff" stroke="#1a1a1a" stroke-width="2.1"/>
<text x="692.7" y="1043.1" text-anchor="middle">14</text>
</svg>
</body></html>
